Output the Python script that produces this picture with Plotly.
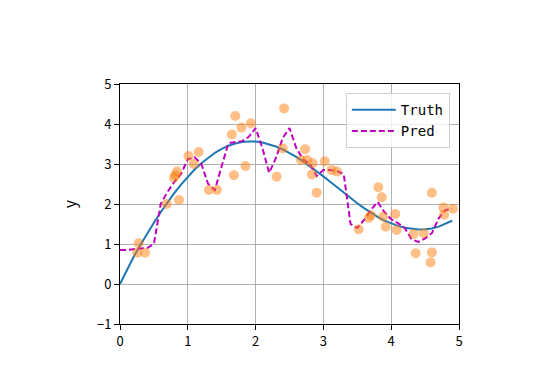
import plotly.graph_objects as go

# Training samples
x_train = [0.255, 0.275, 0.37, 0.69, 0.795, 0.82, 0.84, 0.87, 1.01, 1.09, 1.16, 1.31, 1.43,
           1.65, 1.68, 1.70, 1.79, 1.85, 1.93, 2.31, 2.40, 2.42, 2.67, 2.73, 2.76, 2.83, 2.84,
           2.90, 3.02, 3.12, 3.20, 3.52, 3.67, 3.70, 3.81, 3.86, 3.88, 3.92, 4.06, 4.08, 4.33,
           4.36, 4.48, 4.58, 4.60, 4.60, 4.77, 4.78, 4.91]
y_train = [0.78, 1.02, 0.78, 2.0, 2.66, 2.72, 2.81, 2.1, 3.2, 3.0, 3.3, 2.35, 2.35,
           3.74, 2.72, 4.2, 3.91, 2.95, 4.02, 2.68, 3.39, 4.39, 3.1, 3.37, 3.1, 2.74, 3.02,
           2.28, 3.07, 2.85, 2.81, 1.37, 1.65, 1.72, 2.42, 2.17, 1.68, 1.43, 1.75, 1.35, 1.25,
           0.77, 1.27, 0.54, 2.28, 0.79, 1.91, 1.73, 1.88]

x_test = [round(i * 0.1, 1) for i in range(50)]
truth = [0.0, 0.358, 0.673, 0.973, 1.259, 1.533, 1.794, 2.040, 2.271, 2.486,
         2.683, 2.862, 3.021, 3.160, 3.280, 3.378, 3.456, 3.512, 3.548, 3.564,
         3.560, 3.537, 3.496, 3.438, 3.365, 3.277, 3.177, 3.066, 2.946, 2.819,
         2.690, 2.555, 2.418, 2.282, 2.148, 2.019, 1.896, 1.782, 1.678, 1.586,
         1.518, 1.454, 1.405, 1.374, 1.361, 1.366, 1.390, 1.434, 1.498, 1.581]
pred = [0.85, 0.85, 0.87, 0.88, 0.90, 1.0, 2.0, 2.3, 2.55, 2.75,
        3.12, 3.17, 3.0, 2.5, 2.35, 2.95, 3.52, 3.55, 3.57, 3.68,
        3.9, 3.4, 2.78, 3.15, 3.65, 3.9, 3.4, 3.12, 3.0, 2.7,
        2.85, 2.85, 2.82, 2.75, 1.5, 1.4, 1.6, 1.85, 2.05, 1.8,
        1.62, 1.52, 1.4, 1.12, 1.05, 1.14, 1.27, 1.64, 1.85, 1.87]

x_ticks = [0, 1, 2, 3, 4, 5]
y_ticks = [-1, 0, 1, 2, 3, 4, 5]
y_tick_text = ["\u22121", "0", "1", "2", "3", "4", "5"]

FONT = "Noto Sans CJK SC"
LEGEND_FONT = "DejaVu Sans Mono"

fig = go.Figure()
fig.add_trace(go.Scatter(x=x_test, y=truth, mode="lines", name="Truth",
                         line=dict(color="#1f77b4", width=2)))
fig.add_trace(go.Scatter(x=x_test, y=pred, mode="lines", name="Pred",
                         line=dict(color="#bf00bf", width=2, dash="6px,3px")))
fig.add_trace(go.Scatter(x=x_train, y=y_train, mode="markers", showlegend=False,
                         marker=dict(color="#ff7f0e", size=10, opacity=0.5,
                                     line=dict(width=0))))

fig.update_layout(
    width=536, height=386,
    margin=dict(l=112, r=85, t=76, b=70),
    paper_bgcolor="white", plot_bgcolor="white",
    font=dict(family=FONT, size=13, color="black"),
    legend=dict(x=0.973, y=0.962, xanchor="right", yanchor="top",
                bgcolor="rgba(255,255,255,0.8)", bordercolor="#d0d0d0", borderwidth=1,
                font=dict(family=LEGEND_FONT, size=14), itemwidth=44, tracegroupgap=0),
)
fig.update_xaxes(range=[0, 5], tickvals=x_ticks, showgrid=True, gridcolor="#b0b0b0",
                 gridwidth=1, zeroline=False, showline=True, linecolor="black", linewidth=1,
                 mirror=True, ticks="outside", ticklen=5, tickcolor="black")
fig.update_yaxes(range=[-1, 5], tickvals=y_ticks, ticktext=y_tick_text, showgrid=True,
                 gridcolor="#b0b0b0", gridwidth=1, zeroline=False, showline=True,
                 linecolor="black", linewidth=1, mirror=True, ticks="outside", ticklen=5,
                 tickcolor="black", title=dict(text="y", standoff=16))

fig.write_html("out.html")
